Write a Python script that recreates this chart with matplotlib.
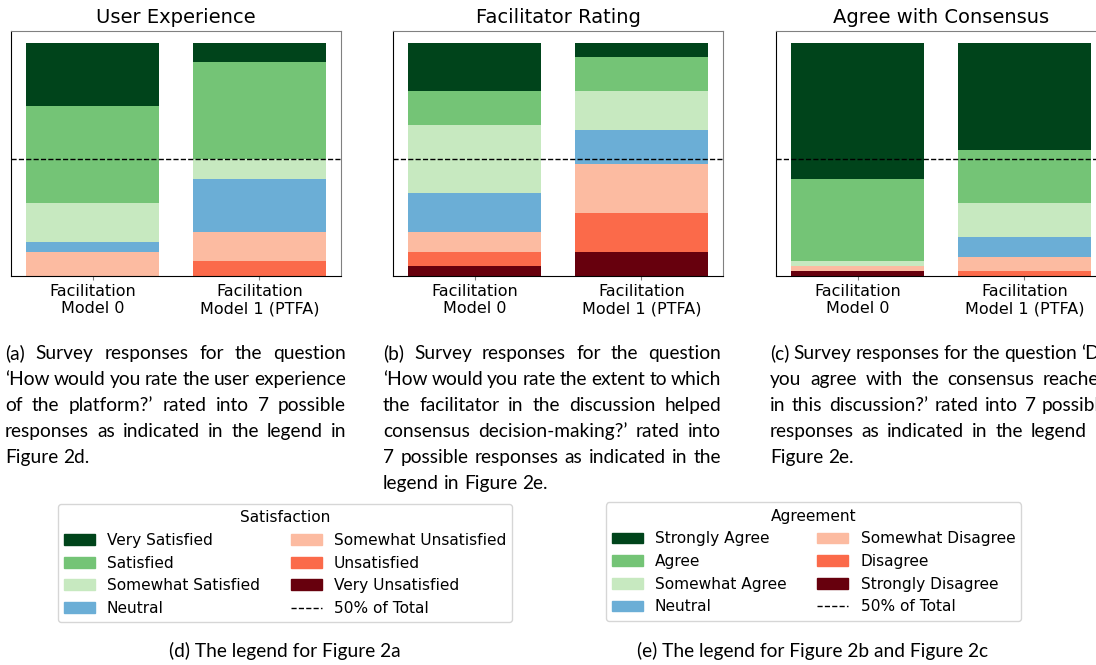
import numpy as np
import matplotlib
matplotlib.use('Agg')
import matplotlib.pyplot as plt
from matplotlib.patches import Patch
from matplotlib.lines import Line2D

# Response counts per model, stacked bottom -> top
# (Very neg, neg, somewhat neg, neutral, somewhat pos, pos, very pos)
models = ['Facilitation\nModel 0', 'Facilitation\nModel 1 (PTFA)']
ux_m0 = [0, 0, 5, 2, 8, 20, 13]
ux_m1 = [0, 3, 6, 11, 4, 20, 4]
fac_m0 = [2, 3, 4, 8, 14, 7, 10]
fac_m1 = [5, 8, 10, 7, 8, 7, 3]
cons_m0 = [1, 0, 1, 0, 1, 17, 28]
cons_m1 = [0, 1, 3, 4, 7, 11, 22]

titles = ['User Experience', 'Facilitator Rating', 'Agree with Consensus']
satisfaction = ['Very Unsatisfied', 'Unsatisfied', 'Somewhat Unsatisfied', 'Neutral',
                'Somewhat Satisfied', 'Satisfied', 'Very Satisfied']
agreement = ['Strongly Disagree', 'Disagree', 'Somewhat Disagree', 'Neutral',
             'Somewhat Agree', 'Agree', 'Strongly Agree']
colors = ['#67000d', '#fb6a4a', '#fcbba1', '#6baed6', '#c7e9c0', '#74c476', '#00441b']

cap_a = ['(a) Survey responses for the question',
         '\u2018How would you rate the user experience',
         'of the platform?\u2019 rated into 7 possible',
         'responses as indicated in the legend in',
         'Figure 2d.']
cap_b = ['(b) Survey responses for the question',
         '\u2018How would you rate the extent to which',
         'the facilitator in the discussion helped',
         'consensus decision-making?\u2019 rated into',
         '7 possible responses as indicated in the',
         'legend in Figure 2e.']
cap_c = ['(c) Survey responses for the question \u2018Do',
         'you agree with the consensus reached',
         'in this discussion?\u2019 rated into 7 possible',
         'responses as indicated in the legend in',
         'Figure 2e.']

W, H = 1096, 665
fig = plt.figure(figsize=(W / 100, H / 100), dpi=100)

CAP_FONT = 'Lato'
CAP_FS = 13.8
PITCH = 26


def px(x, y):
    return x / W, 1 - y / H


def stacked(ax, data, title):
    vals = np.array(data, dtype=float)
    vals = vals / vals.sum(axis=1, keepdims=True)
    bottom = np.zeros(len(models))
    for k in range(vals.shape[1]):
        ax.bar(np.arange(len(models)), vals[:, k], bottom=bottom, width=0.8, color=colors[k])
        bottom += vals[:, k]
    ax.axhline(0.5, color='black', linestyle='--', linewidth=1)
    ax.set_title(title, fontsize=14)
    ax.set_xticks(np.arange(len(models)))
    ax.set_xticklabels(models, fontsize=11.5)
    ax.set_yticks([])
    ax.tick_params(axis='x', length=3, color='0.5', pad=2.5)
    for s in ['top', 'right']:
        ax.spines[s].set_color('0.5')


lefts = [11, 393, 776]
datasets = [[ux_m0, ux_m1], [fac_m0, fac_m1], [cons_m0, cons_m1]]
for left, data, title in zip(lefts, datasets, titles):
    ax = fig.add_axes([left / W, 1 - 276 / H, 330 / W, 245 / H])
    stacked(ax, data, title)

renderer = fig.canvas.get_renderer()


def paragraph(x0, x1, y0, lines):
    space = CAP_FS * 0.25 * 100 / 72
    for i, line in enumerate(lines):
        words = line.split(' ')
        y = 1 - (y0 + i * PITCH) / H
        ts = [fig.text(0, y, w, fontsize=CAP_FS, family=CAP_FONT, va='baseline') for w in words]
        ws = [t.get_window_extent(renderer).width for t in ts]
        if i < len(lines) - 1 and len(words) > 1:
            gap = ((x1 - x0) - sum(ws)) / (len(words) - 1)
            gap = max(gap, 0.7 * space)
        else:
            gap = space
        x = x0
        for t, w in zip(ts, ws):
            t.set_x(x / W)
            x += w + gap


paragraph(5, 346, 359, cap_a)
paragraph(383, 721, 359, cap_b)
paragraph(770, 1110, 359, cap_c)


def legend(labels, title, center):
    order = [6, 5, 4, 3, 2, 1, 0]
    handles = [Patch(color=colors[k], label=labels[k]) for k in order]
    handles.append(Line2D([0], [0], color='black', linestyle='--', linewidth=1, label='50% of Total'))
    fig.legend(handles=handles, ncol=2, title=title, fontsize=11.1, title_fontsize=11.1,
               loc='center', bbox_to_anchor=px(*center))


legend(satisfaction, 'Satisfaction', (285, 563))
legend(agreement, 'Agreement', (813.5, 561.5))

fig.text(*px(285, 657), '(d) The legend for Figure 2a', fontsize=CAP_FS, family=CAP_FONT,
         ha='center', va='baseline')
fig.text(*px(813, 657), '(e) The legend for Figure 2b and Figure 2c', fontsize=CAP_FS,
         family=CAP_FONT, ha='center', va='baseline')

fig.savefig('out.png', dpi=100)
